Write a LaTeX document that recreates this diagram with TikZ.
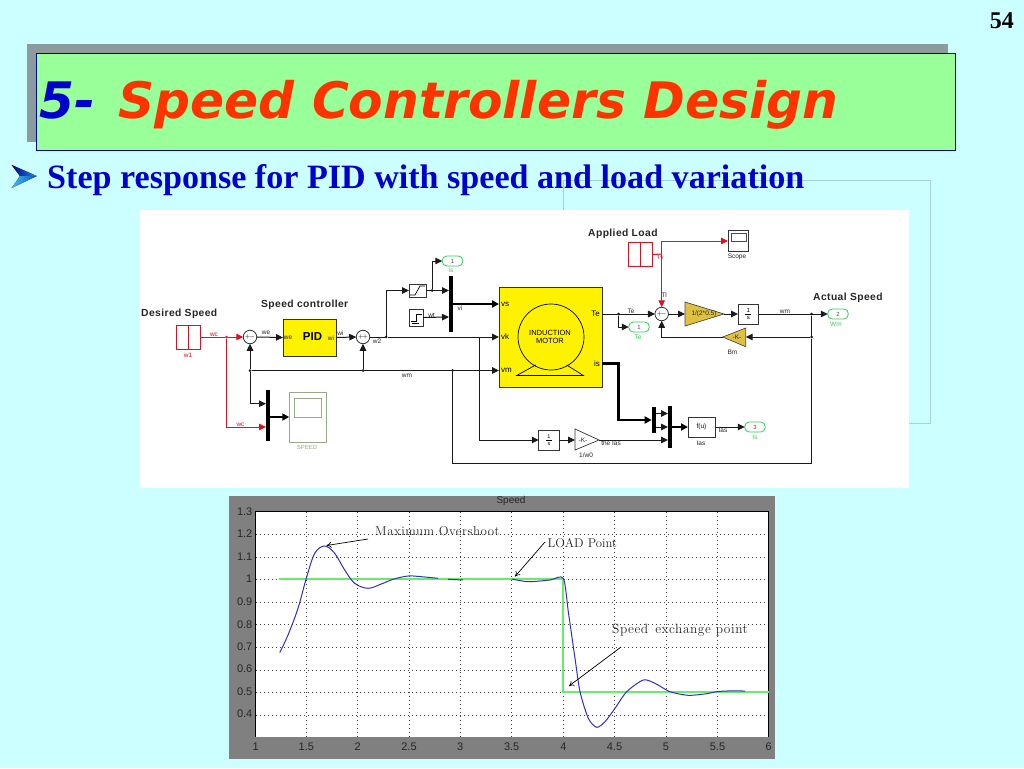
\documentclass[tikz,border=0pt]{standalone}
\usepackage{fontspec}
\usetikzlibrary{arrows.meta,calc}
\newfontfamily\titlefont{DejaVu Sans}
\newfontfamily\timesf{Liberation Serif}
\newfontfamily\arialf{Liberation Sans}
\newfontfamily\arialsp[LetterSpace=4]{Liberation Sans}
\newfontfamily\cmsp[LetterSpace=4]{Latin Modern Roman}
\newcommand{\fsz}[1]{\fontsize{#1}{#1}\selectfont}
\definecolor{slidebg}{HTML}{CCFFFF}
\definecolor{titlegreen}{HTML}{99FF99}
\definecolor{titleshadow}{HTML}{8C9C9C}
\definecolor{navy}{HTML}{0000CC}
\definecolor{orangered}{HTML}{FF3300}
\definecolor{wirered}{HTML}{E01020}
\definecolor{wiregrey}{HTML}{1A1A1A}
\definecolor{outgreen}{HTML}{33CC55}
\definecolor{gold}{HTML}{E0C040}
\definecolor{scopegreen}{HTML}{98A888}
\definecolor{plotblue}{HTML}{3030C0}
\definecolor{plotgreen}{HTML}{66EE66}
\definecolor{framegrey}{HTML}{808080}
\tikzset{
  wire/.style={draw=wiregrey,line width=1pt,-{Triangle[length=7pt,width=6.5pt]}},
  plain/.style={draw=wiregrey,line width=1pt},
  thick bus/.style={draw=black,line width=2.5pt,-{Triangle[length=7pt,width=7pt]}},
  redwire/.style={draw=wirered,line width=1pt,-{Triangle[length=7pt,width=6.5pt]}},
  redplain/.style={draw=wirered,line width=1pt},
  blockbox/.style={draw=black!80,fill=white,line width=0.9pt,inner sep=0pt,outer sep=0pt,font=\arialf\fsz{6.5}},
  yellowbox/.style={draw=black!80,fill=yellow,line width=0.9pt,inner sep=0pt,outer sep=0pt},
  sumnode/.style={circle,draw=black!80,fill=white,line width=0.8pt,minimum size=13.5pt,inner sep=0pt,outer sep=0pt,font=\arialf\fsz{6}},
  dotnode/.style={circle,fill=wiregrey,minimum size=3pt,inner sep=0pt,outer sep=0pt},
  reddot/.style={circle,fill=wirered,minimum size=3pt,inner sep=0pt,outer sep=0pt},
  barnode/.style={fill=black,draw=none,inner sep=0pt,outer sep=0pt},
  pill/.style={draw=outgreen,fill=white,rounded corners=4.5pt,line width=0.8pt,minimum width=20.5pt,minimum height=10pt,inner sep=0pt,outer sep=0pt,font=\arialf\fsz{6},text=black!70},
  tiny/.style={font=\arialf\fsz{6.5},text=black!85,inner sep=0pt},
  redtiny/.style={font=\arialf\fsz{6.5},text=wirered,inner sep=0pt},
  greentiny/.style={font=\arialf\fsz{6.5},text=outgreen,inner sep=0pt},
  head/.style={font=\arialsp\bfseries\fsz{10.3},text=black!85,inner sep=0pt},
  port/.style={font=\arialf\fsz{8},text=black,inner sep=0pt},
  ticklabel/.style={font=\arialf\fsz{11},text=black!85,inner sep=0pt},
  note/.style={font=\cmsp\fsz{12.9},text=black!85,inner sep=0pt,anchor=west},
  noteline/.style={draw=black,line width=0.7pt,-{To[length=5pt,width=6pt]}},
  griddot/.style={draw=black!75,line width=0.8pt,dash pattern=on 1pt off 3pt}
}
\begin{document}
\begin{tikzpicture}[x=1pt,y=-1pt]
\useasboundingbox (0,0) rectangle (1024,768);
\fill[slidebg] (0,0) rectangle (1024,768);

% faint background rectangle
\draw[draw=teal!35,line width=0.6pt] (563,210) -- (563,180) -- (930,180) -- (930,423) -- (909,423);

% title
\fill[titleshadow] (27,44) rectangle (948,142);
\draw[draw=navy!80!black,fill=titlegreen,line width=0.8pt] (36.5,53) rectangle (955.7,150);
\node[anchor=base west,inner sep=0pt,font=\titlefont\bfseries\itshape\fsz{50.3}] (title) at (39.5,118)
  {\textcolor{navy}{5-} \kern 5pt\textcolor{orangered}{Speed Controllers Design}};
\node[anchor=base east,inner sep=0pt,font=\timesf\bfseries\fsz{24}] (pagenum) at (1014,29) {54};

% bullet
\fill[left color=blue!45!black,right color=cyan!45!blue!85!white] (11.7,165) -- (36.7,176) -- (20,176) -- cycle;
\fill[left color=cyan!60!blue!70!white,right color=blue!50!cyan!70!black] (11.7,188) -- (36.7,176) -- (20,176) -- cycle;
\node[anchor=base west,inner sep=0pt,font=\timesf\bfseries\fsz{34.1},text=navy] (subtitle) at (47,188)
  {Step response for PID with speed and load variation};

% ---------- Simulink panel ----------
\fill[white] (140,210) rectangle (909,488);

\node[head,anchor=west] (desired) at (141,314) {Desired Speed};
\node[head,anchor=west] (speedctl) at (261,305) {Speed controller};
\node[head,anchor=west] (applied) at (588,233.5) {Applied Load};
\node[head,anchor=west] (actual) at (813,297.5) {Actual Speed};

% sources
\node[blockbox,draw=wirered,minimum width=24pt,minimum height=24pt] (step1) at (188.5,337) {};
\draw[wirered,line width=0.9pt] (step1.north west) -- (188,325) -- (188,349) -- (step1.south east);
\node[redtiny] (w1lab) at (188,355) {w1};
\node[blockbox,draw=wirered,minimum width=24pt,minimum height=24pt] (step2) at (640,254.5) {};
\draw[wirered,line width=0.9pt] (628,266.5) -- (640,266.5) -- (640,242.5) -- (652,242.5);

% controller
\node[sumnode] (sum1) at (250,337) {$+\!-$};
\node[yellowbox,minimum width=53pt,minimum height=37pt] (pid) at (309.5,337.5) {};
\node[inner sep=0pt,font=\arialf\bfseries\fsz{11.5}] (pidtxt) at (312.5,337) {PID};
\node[tiny] (weport) at (288,338) {we};
\node[tiny] (wiport) at (331,338) {wi};
\node[sumnode] (sum2) at (363,337) {$+\!+$};

% saturation, step icon, mux
\node[blockbox,minimum width=17pt,minimum height=13pt] (sat) at (417.5,290.5) {};
\draw[black,line width=0.7pt] (410,295) -- (415,295) -- (420,286) -- (425,286);
\node[blockbox,minimum width=14pt,minimum height=17pt] (srcb) at (416,317.5) {};
\draw[black,line width=0.6pt] (411,321) -- (416,321) -- (416,314) -- (422,314);
\draw[black,line width=0.6pt] (412,323) -- (419,323);
\node[barnode,minimum width=4pt,minimum height=56pt] (mux1) at (451,304) {};
\node[pill] (out1) at (452.5,261) {1};
\node[greentiny] (out1lab) at (451,270) {is};
\node[tiny] (vilab) at (460,308) {vi};
\node[tiny] (w1b) at (431.5,315) {wt};

% motor
\node[yellowbox,minimum width=103pt,minimum height=100pt] (motor) at (550.5,337.5) {};
\draw[black,line width=0.7pt] (551,337) circle (33);
\draw[black,line width=0.7pt] (535.7,365) -- (516.7,375.5) -- (583.3,375.5) -- (566.7,365);
\node[inner sep=0pt,align=center,font=\arialf\fsz{7.5},text=black] (indtxt) at (550,337) {\fontsize{7.5}{10}\selectfont INDUCTION\\MOTOR};
\node[port,anchor=west] (pvs) at (501,304) {vs};
\node[port,anchor=west] (pvk) at (501,337) {vk};
\node[port,anchor=west] (pvm) at (501,370.5) {vm};
\node[port,anchor=east] (pte) at (600,314) {Te};
\node[port,anchor=east] (pis) at (600,363.5) {is};
\coordinate (mvs) at (499,304);
\coordinate (mvk) at (499,337);
\coordinate (mvm) at (499,370.5);
\coordinate (mte) at (602,314);
\coordinate (mis) at (602,363.5);

% scope SPEED
\node[barnode,minimum width=4pt,minimum height=51pt] (mux0) at (268,415.5) {};
\node[blockbox,draw=scopegreen,minimum width=37.5pt,minimum height=50pt] (speedscope) at (308,417) {};
\draw[scopegreen,line width=0.8pt] (294.7,398.7) rectangle (321.7,417);
\node[font=\arialf\fsz{6},text=scopegreen,inner sep=0pt] (speedlab) at (307,447.5) {SPEED};

% lower chain
\node[blockbox,minimum width=20.5pt,minimum height=20pt,font=\arialf\fsz{5.5}] (int2) at (549,440) {\shortstack{1\\[-1pt]\rule{6pt}{0.3pt}\\[-1pt]s}};
\coordinate (g2a) at (575,429); \coordinate (g2b) at (575,450); \coordinate (g2tip) at (599,440);
\coordinate (g2in) at (575,440);
\draw[black!80,fill=white,line width=0.7pt] (g2a) -- (g2tip) -- (g2b) -- cycle;
\node[tiny] (g2txt) at (583,440) {-K-};
\node[tiny] (g2lab) at (586,455) {1/w0};
\node[tiny] (thelab) at (611,443.5) {the Ias};
\node[barnode,minimum width=4pt,minimum height=26pt] (demux) at (653.7,420) {};
\node[barnode,minimum width=4pt,minimum height=42pt] (mux2) at (670,427) {};
\node[blockbox,minimum width=27pt,minimum height=20pt,font=\arialf\fsz{6.5}] (fcn) at (701.5,427) {f(u)};
\node[tiny] (ias1) at (723,430.5) {Ias};
\node[tiny] (ias2) at (701,443) {Ias};
\node[pill] (out3) at (755,427) {3};
\node[greentiny] (out3lab) at (755,437) {Is};

% mechanical part
\node[sumnode] (sum3) at (661.7,314) {};
\node[inner sep=0pt,font=\arialf\fsz{6}] (sum3s) at (661.7,314) {$+\!-$};
\coordinate (g1a) at (685,302); \coordinate (g1b) at (685,326); \coordinate (g1tip) at (724,314);
\coordinate (g1in) at (685,314);
\draw[black!70,fill=gold,line width=0.7pt] (g1a) -- (g1tip) -- (g1b) -- cycle;
\node[tiny,font=\arialf\fsz{6.5}] (g1txt) at (704,314) {1/(2*0.5)};
\node[blockbox,minimum width=20.5pt,minimum height=20pt,font=\arialf\fsz{6}] (int1) at (748.3,314) {\shortstack{1\\[-1pt]\rule{6pt}{0.3pt}\\[-1pt]s}};
\coordinate (g3a) at (745.7,328); \coordinate (g3b) at (745.7,346.7); \coordinate (g3tip) at (722.7,337);
\coordinate (g3in) at (745.7,337);
\draw[black!70,fill=gold,line width=0.7pt] (g3a) -- (g3tip) -- (g3b) -- cycle;
\node[tiny] (g3txt) at (737,337.5) {-K-};
\node[tiny] (g3lab) at (732.5,352) {Bm};
\node[pill] (out2) at (838,314) {2};
\node[greentiny] (out2lab) at (836,324) {Wm};
\node[pill] (out4) at (639,327) {1};
\node[greentiny] (out4lab) at (638,337) {Te};

% scope top right
\node[blockbox,minimum width=20.5pt,minimum height=21.5pt] (scope) at (738.3,241) {};
\draw[black!70,line width=0.6pt] (731,233) rectangle (746,241);
\node[tiny] (scopelab) at (737,257) {Scope};

% junctions
\node[reddot] (jr) at (226.5,337) {};
\node[dotnode] (jfb) at (250,370.5) {};
\node[dotnode] (jfb2) at (363,370.5) {};
\node[dotnode] (jw) at (386,337) {};
\node[dotnode] (jsat) at (432,290.5) {};
\node[dotnode] (jm) at (452.5,370.5) {};
\node[dotnode] (jte) at (618.7,314) {};
\node[dotnode] (js1) at (811.7,314) {};
\node[dotnode] (js2) at (811.7,337) {};
\coordinate (jk) at (479.5,337);
\coordinate (jtl) at (661.7,254);

% red wires
\draw[redplain] (step1.east) -- (jr);
\draw[redwire] (jr) -- (sum1.west);
\draw[redwire] (jr) |- (266,427);
\draw[redplain] (step2.east) -- (jtl);
\draw[redwire] (jtl) -- (sum3.north);
\draw[redwire] (jtl) |- (scope.west);
\node[redtiny] (wclab1) at (214,335) {wc};
\node[redtiny] (wclab2) at (240.5,425) {wc};
\node[redtiny] (tvlab) at (660,257.5) {Tv};
\node[tiny] (tllab) at (664,295.5) {Tl};

% black wires
\draw[wire] (sum1.east) -- (pid.west);
\node[tiny] (welab) at (266,333) {we};
\draw[wire] (pid.east) -- (sum2.west);
\node[tiny] (wilab) at (340.5,333) {wi};
\node[tiny] (w2lab) at (377,341) {w2};
\draw[plain] (sum2.east) -- (jw);
\draw[wire] (jw) -- (mvk);
\draw[wire] (jw) |- (sat.west);
\draw[wire] (sat.east) -- (449,290.5);
\draw[wire] (jsat) |- (out1.west);
\draw[wire] (srcb.east) -- (449,317);
\draw[thick bus] (453,304) -- (mvs);
\draw[wire] (jfb) -- (sum1.south);
\draw[wire] (jfb2) -- (sum2.south);
\draw[wire] (jfb) -- (mvm);
\node[tiny] (wmlab) at (407,375.5) {wm};
\draw[wire] (jfb) |- (266,403.7);
\draw[thick bus] (270,417) -- (speedscope.west);
\draw[wire] (jk) |- (int2.west);
\draw[wire] (int2.east) -- (g2in);
\draw[wire] (g2tip) -- (668,440);
\draw[plain] (jm) |- (811.7,463) -- (js2);
\draw[plain] (js2) -- (js1);
\draw[thick bus] (mis) -| (618.5,420) -- (651.7,420);
\draw[wire] (655.7,413.5) -- (668,413.5);
\draw[wire] (655.7,427) -- (668,427);
\draw[thick bus] (672,427) -- (fcn.west);
\draw[wire] (fcn.east) -- (out3.west);
\draw[wire] (mte) -- (sum3.west);
\node[tiny] (telab) at (631,311) {Te};
\draw[wire] (jte) |- (out4.west);
\draw[wire] (sum3.east) -- (g1in);
\draw[wire] (g1tip) -- (int1.west);
\draw[wire] (int1.east) -- (out2.west);
\node[tiny] (wmlab2) at (785,312) {wm};
\draw[wire] (js2) -- (g3in);
\draw[wire] (g3tip) -| (sum3.south);

% ---------- plot ----------
\fill[framegrey] (229,496) rectangle (775,759);
\fill[white] (255.7,511.7) rectangle (768.7,737.3);
\foreach \gx in {306.3,357.7,409,460.3,511.7,563.3,614.5,666,717.5}
  \draw[griddot] (\gx,511.7) -- (\gx,737.3);
\foreach \gy in {534.3,556.9,579.5,602.1,624.7,647.3,669.9,692.5,715.1}
  \draw[griddot] (255.7,\gy) -- (768.7,\gy);
\draw[black,line width=0.8pt] (768.7,737.3) -- (768.7,511.7) -- (255.7,511.7) -- (255.7,737.3);
\draw[black!50,line width=0.8pt] (255.7,737.3) -- (768.7,737.3);
\foreach \ylab/\gy in {1.3/511.5,1.2/534,1.1/556.5,1/579,0.9/601.5,0.8/624.5,0.7/646.5,0.6/669,0.5/691.5,0.4/714}
  \node[ticklabel,anchor=east] at (252.5,\gy) {\ylab};
\foreach \xlab/\gx in {1/255.7,1.5/306.3,2/357.7,2.5/409,3/460.3,3.5/511.7,4/563.3,4.5/614.5,5/666,5.5/717.5,6/768.7}
  \node[ticklabel] at (\gx,746.5) {\xlab};
\node[font=\arialf\fsz{10},text=black!85,inner sep=0pt] (plottitle) at (511,501) {Speed};

\fill[plotgreen] (278.7,578.2) rectangle (564.2,579.8);
\fill[plotgreen] (562.4,578.2) rectangle (564.2,692.5);
\fill[plotgreen] (562.4,690.9) rectangle (768.7,692.5);
\draw[plotblue,line width=1pt] plot[smooth,tension=0.55] coordinates {(279.7,652.7) (288,635) (298,608.3) (306.3,578.3) (314.7,553.3) (324.7,546) (334.7,553.3) (344.7,570) (354.7,583.3) (368,588.3) (381.3,584) (393,579.3) (408,576) (421.3,576.7) (438,578.3)};
\draw[plotblue,line width=1pt] (448,579.3) -- (463,580);
\draw[plotblue,line width=1pt] plot[smooth,tension=0.45] coordinates {(511.7,579) (528.3,581.7) (550,580) (563.3,578.3) (568.3,611.7) (575,658.3) (580,691.7) (588.3,718.3) (596.7,727.3) (605,721.7) (615,708.3) (626.7,691.7) (643.3,680) (655,683.3) (670,691.7) (688.3,695.3) (706.7,693.7) (716.7,691.7) (726.7,691) (745,691)};

\node[note] (n1) at (375,531.5) {Maximum Overshoot};
\node[note,font=\rmfamily\fsz{12.7}] (n2) at (547.5,543) {LOAD Point};
\node[note,font=\cmsp\fsz{13.4}] (n3) at (612,630.5) {Speed\, exchange point};
\coordinate (n1end) at (326.5,545.5);
\coordinate (n1start) at (368,539);
\coordinate (n2end) at (515,576.5);
\coordinate (n2start) at (545,542);
\coordinate (n3end) at (569,686);
\coordinate (n3start) at (621,647);
\draw[noteline] (n1start) -- (n1end);
\draw[noteline] (n2start) -- (n2end);
\draw[noteline] (n3start) -- (n3end);
\end{tikzpicture}
\end{document}
